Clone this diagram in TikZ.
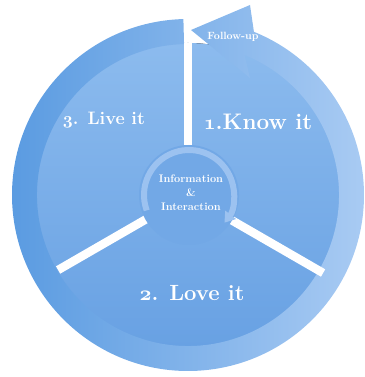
\documentclass[tikz,border=0pt]{standalone}
\usepackage{xcolor}
\usetikzlibrary{arrows.meta,calc}
\definecolor{ringdark}{HTML}{5A9BE1}
\definecolor{ringlight}{HTML}{A9CBF3}
\definecolor{pietop}{HTML}{8CBBEE}
\definecolor{piebottom}{HTML}{68A1E3}
\definecolor{hubfill}{HTML}{72A8E6}
\definecolor{hubring}{HTML}{9CC2F0}
\newcommand{\stepnum}[1]{{\usefont{OML}{cmm}{b}{it}#1}}
\tikzset{
	cyclelabel/.style={
			text=white, inner sep=0pt,
			font=\fontsize{#1}{#1}\selectfont\bfseries
		}
}

\begin{document}
\begin{tikzpicture}[x=1pt, y=1pt]
			\useasboundingbox (-188,-182) rectangle (176,195);

			\fill[top color=pietop, bottom color=piebottom] (0,0) circle (152);

			\shade[left color=ringdark, right color=ringlight]
				(91.5:176) arc[start angle=91.5, end angle=428, radius=176]
				-- (62,190) -- (3,165) -- (62,117)
				-- (428:151) arc[start angle=428, end angle=91.5, radius=151] -- cycle;

			\foreach \a/\r in {90/152, 210/150, 330/156} {
				\draw[white, line width=8.5] (0,0) to (\a:\r);
			}

			\fill[hubfill] (1,0) circle (50);
			\draw[hubring, line width=6, -{Triangle[length=10pt, width=13pt]}]
				(1,0) ++(200:45) arc[start angle=200, end angle=-38, radius=45];

			\node[cyclelabel=22.5] (know) at (70,73) {\stepnum{1}.Know it};
			\node[cyclelabel=22] (love) at (4,-98) {\stepnum{2}. Love it};
			\node[cyclelabel=18] (live) at (-84,75) {\stepnum{3}. Live it};
			\node[cyclelabel=11, font=\fontsize{11}{14}\selectfont\bfseries, align=center] (info) at (3,2) {Information\\\&\\Interaction};
			\node[cyclelabel=10.5] (follow) at (45,158) {Follow-up};
		\end{tikzpicture}
\end{document}
